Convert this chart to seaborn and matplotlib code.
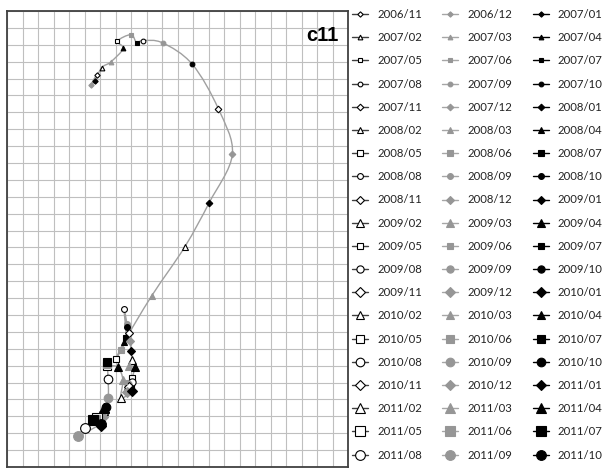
import matplotlib
matplotlib.use("Agg")
import matplotlib.pyplot as plt
from matplotlib.path import Path
from matplotlib.patches import PathPatch
import numpy as np
import seaborn as sns

# one point per month (grid units)
months = [
    "2006/11", "2006/12", "2007/01", "2007/02", "2007/03", "2007/04",
    "2007/05", "2007/06", "2007/07", "2007/08", "2007/09", "2007/10",
    "2007/11", "2007/12", "2008/01", "2008/02", "2008/03", "2008/04",
    "2008/05", "2008/06", "2008/07", "2008/08", "2008/09", "2008/10",
    "2008/11", "2008/12", "2009/01", "2009/02", "2009/03", "2009/04",
    "2009/05", "2009/06", "2009/07", "2009/08", "2009/09", "2009/10",
    "2009/11", "2009/12", "2010/01", "2010/02", "2010/03", "2010/04",
    "2010/05", "2010/06", "2010/07", "2010/08", "2010/09", "2010/10",
    "2010/11", "2010/12", "2011/01", "2011/02", "2011/03", "2011/04",
    "2011/05", "2011/06", "2011/07", "2011/08", "2011/09", "2011/10",
]
x_vals = [
    5.79, 5.42, 5.68, 6.11, 6.69, 7.50, 7.12, 8.00, 8.37, 8.75, 10.05, 11.95,
    13.63, 14.54, 13.05, 11.46, 9.34, 7.55, 7.03, 7.35, 7.68, 7.55, 7.74, 7.74,
    7.87, 7.94, 8.00, 8.05, 7.87, 8.24, 8.06, 7.87, 8.00, 8.05, 7.81, 7.79,
    7.87, 7.74, 8.05, 7.35, 7.48, 7.14, 6.47, 6.47, 6.47, 6.52, 6.54, 6.39,
    6.26, 6.21, 6.05, 6.19, 6.13, 6.26, 5.81, 5.68, 5.53, 5.03, 4.60, 6.06,
]
y_vals = [
    23.24, 22.64, 22.88, 23.65, 23.98, 24.78, 25.21, 25.60, 25.11, 25.25, 25.11, 23.85,
    21.22, 18.52, 15.66, 13.02, 10.14, 7.40, 6.39, 6.92, 7.63, 9.35, 8.46, 8.28,
    7.93, 7.46, 6.86, 6.33, 5.98, 5.92, 5.27, 4.97, 4.73, 5.03, 4.91, 4.56,
    4.73, 4.44, 4.50, 4.08, 5.15, 5.92, 5.98, 6.09, 6.21, 5.21, 4.08, 3.55,
    3.25, 2.98, 2.44, 3.37, 3.25, 3.49, 2.90, 2.78, 2.78, 2.33, 1.83, 2.54,
]

# marker styles: shape changes every 3 months, fill cycles open/gray/black,
# size grows each year
shapes = ["D", "^", "s", "o"]
shape_scale = {"D": 0.8, "^": 1.0, "s": 0.95, "o": 1.0}
fills = [("white", "black", "#404040"), ("#969696", "#969696", "#A6A6A6"),
         ("black", "black", "black")]
year_sizes = [3.4, 4.2, 5.2, 6.2, 7.0]
GRAY = "#A0A0A0"

sns.set_style("white")
plt.rcParams["font.family"] = ["Lato", "DejaVu Sans"]

fig = plt.figure(figsize=(6.11, 4.68), dpi=100)
ax = fig.add_axes([7 / 611, 1 / 468, 341 / 611, 456 / 468])

# smoothed connecting line (Catmull-Rom style Bezier through the points)
pts = np.column_stack([x_vals, y_vals])
n = len(pts)
verts = [pts[0]]
codes = [Path.MOVETO]
for i in range(n - 1):
    p0 = pts[i - 1] if i > 0 else pts[i]
    p1, p2 = pts[i], pts[i + 1]
    p3 = pts[i + 2] if i + 2 < n else pts[i + 1]
    verts += [p1 + (p2 - p0) / 6, p2 - (p3 - p1) / 6, p2]
    codes += [Path.CURVE4] * 3
ax.add_patch(PathPatch(Path(verts, codes), fill=False, edgecolor=GRAY, lw=1.0, zorder=2))

for i, m in enumerate(months):
    face, edge, line_c = fills[i % 3]
    shp = shapes[(i // 3) % 4]
    sns.lineplot(x=[x_vals[i]], y=[y_vals[i]], ax=ax, marker=shp,
                 markersize=year_sizes[i // 12] * shape_scale[shp],
                 markerfacecolor=face, markeredgecolor=edge,
                 markeredgewidth=0.8, color=line_c, lw=1.0, label=m,
                 zorder=3 + i)

if ax.get_legend() is not None:
    ax.get_legend().remove()

ax.set_xlim(0, 22)
ax.set_ylim(0, 27)
ax.set_xticks(range(0, 23))
ax.set_yticks(range(0, 28))
ax.set_xticklabels([])
ax.set_yticklabels([])
ax.tick_params(length=0)
ax.set_xlabel("")
ax.set_ylabel("")
ax.grid(True, color="#BFBFBF", lw=0.8)
ax.set_axisbelow(True)
for sp in ax.spines.values():
    sp.set_color("#404040")
    sp.set_linewidth(1.3)

ax.text(0.972, 0.968, "c11", transform=ax.transAxes, ha="right", va="top",
        fontsize=14.5, fontweight="bold", family="Liberation Sans", color="black")

# legend laid out row by row, three entries per row
handles, labels = ax.get_legend_handles_labels()
order = [i for c in range(3) for i in range(c, len(labels), 3)]
fig.legend([handles[i] for i in order], [labels[i] for i in order], ncol=3,
           loc="upper left", bbox_to_anchor=(352 / 611, 1 - 9 / 468),
           frameon=False, fontsize=8.2, handlelength=1.4, handletextpad=0.8,
           columnspacing=1.8, labelspacing=1.07, borderaxespad=0, borderpad=0,
           labelcolor="#222222")

fig.savefig("out.png", dpi=100)
